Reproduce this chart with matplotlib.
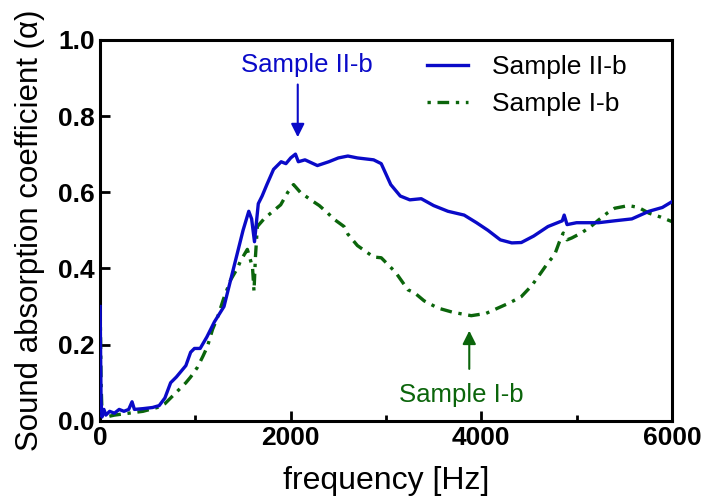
import matplotlib
matplotlib.use('Agg')
import matplotlib.pyplot as plt
from matplotlib.ticker import MultipleLocator

plt.rcParams['font.family'] = ['Liberation Sans', 'DejaVu Sans']

# Sample II-b (blue, solid)
freq_2b = [0, 10, 20, 40, 60, 100, 150, 200, 250, 300, 335, 360, 450, 550, 620,
           680, 740, 800, 850, 900, 950, 990, 1050, 1120, 1200, 1300, 1400, 1450,
           1500, 1560, 1590, 1620, 1640, 1660, 1700, 1750, 1820, 1900, 1950, 2000,
           2050, 2080, 2150, 2280, 2400, 2500, 2600, 2700, 2870, 2950, 3050, 3150,
           3250, 3370, 3500, 3650, 3820, 3950, 4070, 4200, 4320, 4420, 4550, 4700,
           4850, 4870, 4900, 5000, 5230, 5400, 5580, 5760, 5900, 6000]
alpha_2b = [0.30, 0.05, 0.01, 0.03, 0.015, 0.025, 0.02, 0.03, 0.025, 0.03, 0.05,
            0.03, 0.032, 0.035, 0.04, 0.06, 0.10, 0.115, 0.13, 0.145, 0.18, 0.19,
            0.19, 0.22, 0.26, 0.30, 0.40, 0.45, 0.50, 0.55, 0.53, 0.47, 0.52, 0.57,
            0.59, 0.62, 0.66, 0.68, 0.675, 0.69, 0.70, 0.68, 0.685, 0.67, 0.68, 0.69,
            0.695, 0.69, 0.685, 0.675, 0.62, 0.59, 0.58, 0.583, 0.565, 0.55, 0.54,
            0.52, 0.50, 0.475, 0.467, 0.468, 0.485, 0.51, 0.525, 0.54, 0.515, 0.52,
            0.52, 0.525, 0.53, 0.55, 0.56, 0.575]

# Sample I-b (green, dash-dot)
freq_1b = [0, 10, 20, 60, 150, 300, 450, 600, 680, 740, 820, 900, 950, 1020, 1080,
           1126, 1180, 1230, 1295, 1370, 1440, 1474, 1545, 1580, 1600, 1615, 1630,
           1650, 1720, 1790, 1895, 1970, 2030, 2100, 2210, 2300, 2390, 2450, 2560,
           2600, 2700, 2870, 2950, 3100, 3230, 3300, 3400, 3545, 3700, 3895, 4050,
           4175, 4300, 4420, 4530, 4630, 4700, 4770, 4820, 4860, 4900, 4950, 5050,
           5150, 5230, 5320, 5400, 5545, 5650, 5760, 5880, 6000]
alpha_1b = [0.32, 0.10, 0.02, 0.01, 0.015, 0.02, 0.025, 0.035, 0.045, 0.06, 0.08,
            0.10, 0.115, 0.14, 0.17, 0.195, 0.24, 0.27, 0.32, 0.37, 0.40, 0.42,
            0.45, 0.42, 0.40, 0.34, 0.43, 0.51, 0.53, 0.545, 0.567, 0.60, 0.62,
            0.60, 0.58, 0.565, 0.545, 0.53, 0.51, 0.49, 0.46, 0.43, 0.428, 0.39,
            0.344, 0.336, 0.315, 0.296, 0.285, 0.276, 0.282, 0.296, 0.31, 0.326,
            0.355, 0.39, 0.415, 0.436, 0.47, 0.493, 0.475, 0.48, 0.493, 0.51, 0.527,
            0.545, 0.558, 0.565, 0.56, 0.545, 0.535, 0.523]

blue = '#0a0ac8'
green = '#0b650b'

fig = plt.figure(figsize=(7.05, 5.04), dpi=100)
ax = fig.add_axes([0.142, 0.165, 0.811, 0.756])

ax.plot(freq_1b, alpha_1b, color=green, lw=2.4, ls=(0, (1, 2, 3.5, 2)),
        label='Sample I-b', zorder=2)
ax.plot(freq_2b, alpha_2b, color=blue, lw=2.4, label='Sample II-b', zorder=3)

ax.set_xlim(0, 6000)
ax.set_ylim(0, 1.0)
ax.xaxis.set_major_locator(MultipleLocator(2000))
ax.xaxis.set_minor_locator(MultipleLocator(1000))
ax.yaxis.set_major_locator(MultipleLocator(0.2))
ax.set_yticklabels([f'{v:.1f}' for v in ax.get_yticks()])

ax.tick_params(which='both', direction='in', width=2, labelsize=19, pad=4)
ax.tick_params(which='major', length=7)
ax.tick_params(which='minor', length=4.5)
for lab in ax.get_xticklabels() + ax.get_yticklabels():
    lab.set_fontweight('bold')
for sp in ax.spines.values():
    sp.set_linewidth(2.2)

ax.set_xlabel('frequency [Hz]', fontsize=23, labelpad=11)
ax.set_ylabel('Sound absorption coefficient (\u03b1)', fontsize=22.5, labelpad=9)

ax.annotate('Sample II-b', xy=(2074, 0.737), xytext=(2168, 0.934),
            color=blue, fontsize=18.5, ha='center', va='center')
ax.annotate('', xy=(2074, 0.737), xytext=(2074, 0.89),
            arrowprops=dict(arrowstyle='-|>', color=blue, lw=1.5,
                            mutation_scale=20))
ax.annotate('Sample I-b', xy=(3874, 0.244), xytext=(3790, 0.068),
            color=green, fontsize=18.5, ha='center', va='center')
ax.annotate('', xy=(3874, 0.244), xytext=(3874, 0.129),
            arrowprops=dict(arrowstyle='-|>', color=green, lw=1.5,
                            mutation_scale=20))

h, l = ax.get_legend_handles_labels()
ax.legend(h[::-1], l[::-1], loc='upper left', bbox_to_anchor=(0.572, 0.96),
          frameon=False, fontsize=19, borderpad=0, borderaxespad=0,
          handlelength=1.55, handletextpad=0.9, labelspacing=0.5)

fig.savefig('out.png', dpi=100)
